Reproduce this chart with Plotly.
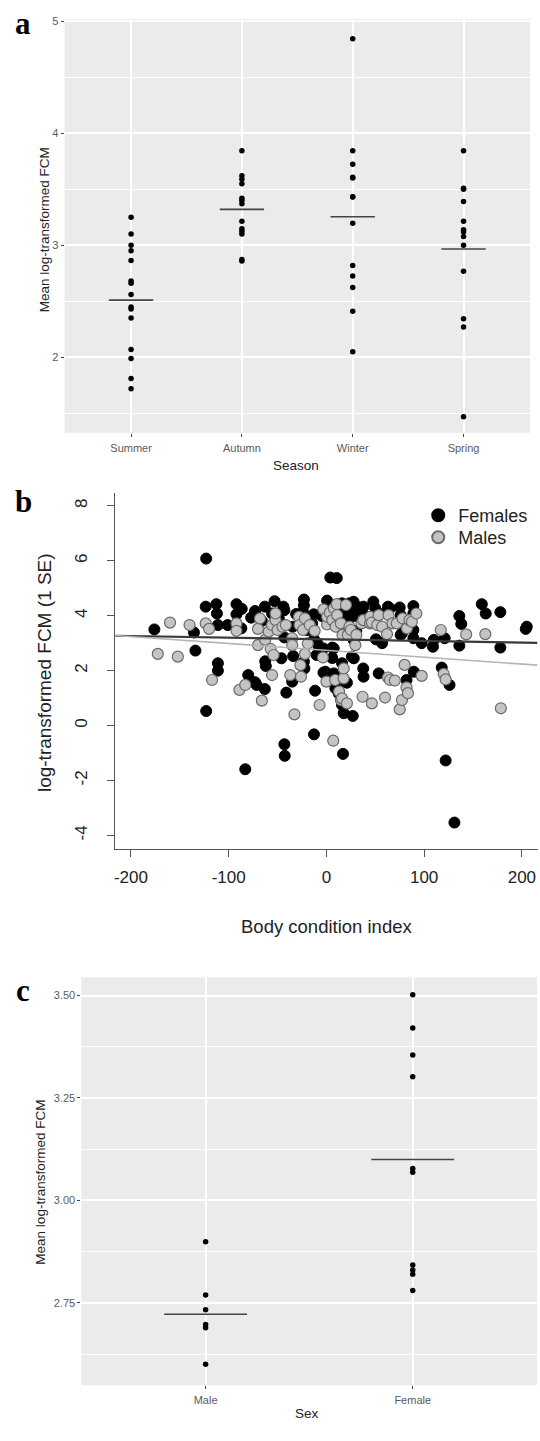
import plotly.graph_objects as go

# ---------------- data ----------------
season_labels = ["Summer", "Autumn", "Winter", "Spring"]
summer_fcm = [3.25, 3.10, 3.00, 2.95, 2.865, 2.68, 2.66, 2.56, 2.45, 2.43, 2.35, 2.07, 1.99, 1.81, 1.72]
autumn_fcm = [3.843, 3.62, 3.59, 3.55, 3.42, 3.40, 3.37, 3.215, 3.147, 3.126, 3.10, 2.874, 2.86]
winter_fcm = [4.844, 3.843, 3.724, 3.606, 3.60, 3.434, 3.43, 3.197, 2.82, 2.726, 2.622, 2.41, 2.05]
spring_fcm = [3.843, 3.51, 3.50, 3.39, 3.215, 3.138, 3.12, 3.078, 3.0, 2.767, 2.344, 2.27, 1.47]
season_means = [2.51, 3.32, 3.255, 2.966]

female_bci = [-176, -135.5, -134, -123, -123.5, -123, -112.6, -112, -111, -111, -111, -101, -92, -92,
              -86.6, -87, -83, -80, -77, -73, -73, -71.5, -66, -63, -63, -62.6, -62, -55.6, -53, -52,
              -48.7, -46, -44, -43, -43, -43, -42.6, -41, -35, -34.5, -34, -31, -24, -23, -23, -22.5,
              -23, -20, -14.6, -13, -13, -12.7, -12.7, -11.6, -10, -9.5, -8, -4.6, -3, -3, -1, 0.7,
              2.5, 4, 6, 6, 4, 10.6, 8.4, 7.5, 7.5, 9.2, 12.6, 13, 16, 16, 16, 17.7, 17.7, 17, 18.3,
              18.3, 19.4, 19.4, 21, 21, 22, 23.6, 26, 26, 27, 27.8, 27, 28, 28, 29, 30.6, 34, 37.7,
              38, 38, 38, 40, 48, 50, 50.7, 53.5, 57, 60.5, 63, 65, 75, 76, 76, 77.3, 82, 82, 89, 89,
              89, 89, 89.4, 97.5, 109, 110, 118, 121, 122, 126, 131, 136, 138, 136, 159, 163, 178,
              178, 204, 205]
female_fcm = [3.50, 3.39, 2.73, 6.08, 4.33, 0.53, 4.42, 4.08, 3.66, 2.27, 2.0, 3.66, 4.42, 4.05,
              4.25, 3.54, -1.59, 1.84, 3.93, 4.17, 1.58, 1.48, 3.81, 4.33, 1.33, 2.34, 2.17, 4.08, 4.53, 4.08,
              3.9, 2.45, 4.33, 4.2, 3.21, -0.68, -1.10, 1.2, 1.6, 3.6, 2.53, 4.06, 4.15, 4.59, 4.38, 2.08,
              2.33, 3.48, 3.72, 4.05, 3.42, 3.14, -0.32, 1.27, 2.57, 3.0, 2.9, 3.99, 1.93, 2.81, 1.96, 4.55,
              4.39, 4.21, 2.84, 2.46, 5.39, 5.37, 1.54, 1.9, 2.81, 1.36, 1.17, 3.9, 4.45, 2.27, 0.75, 4.02, 0.45, -1.03, 4.17,
              0.81, 3.6, 1.6, 3.84, 1.56, 3.72, 4.45, 4.33, 2.51, 0.35, 4.51, 3.18, 3.11, 2.45, 3.99, 3.44, 4.30, 2.08,
              1.78, 4.33, 4.02, 3.84, 4.51, 4.27, 3.14, 1.90, 3.0, 4.12, 4.33, 4.27, 4.30, 3.30, 4.02, 3.36, 3.72, 1.66, 4.35, 4.08,
              3.48, 3.18, 1.96, 3.0, 2.87, 3.12, 2.11, 3.18, -1.27, 1.48, -3.53, 3.99, 3.70, 2.91, 4.42, 4.08, 4.13,
              2.84, 3.52, 3.60]

male_bci = [-172.5, -160, -152, -140, -123.5, -120, -117, -92, -92, -89, -83, -70, -70, -68, -66, -62.6,
            -59, -57, -55.6, -54, -55.6, -52, -52, -50, -45, -41.5, -37, -35, -35, -32.7, -28, -27.5,
            -26.6, -26, -24, -22, -22, -19, -17, -12, -7, -3, -3.5, 0, 0.7, 0.7, 3.5, 6, 7, 7.7, 9,
            9.5, 10.6, 11, 13, 14.8, 14.8, 16, 16.5, 17.6, 17.7, 20, 21, 22, 23.6, 25, 29.6, 30.6, 36,
            37, 37.7, 44.7, 45, 46.5, 46.5, 52, 53.5, 57, 60, 62, 63, 63.6, 65, 67.6, 70, 72, 75, 77.3,
            78, 80, 82, 82.4, 83.4, 85, 87.5, 92, 97.5, 117, 120, 122, 143, 162.6, 178.5]
male_fcm = [2.61, 3.75, 2.51, 3.66, 3.72, 3.52, 1.66, 3.72, 3.45, 1.30, 1.48, 3.52, 2.93, 3.90, 0.91, 3.12,
            3.42, 2.79, 3.66, 2.57, 1.84, 3.84, 4.08, 3.48, 3.6, 3.66, 1.84, 3.18, 2.93, 0.41, 3.96, 3.66,
            2.2, 1.78, 3.48, 3.90, 2.61, 2.99, 3.66, 3.45, 0.75, 4.23, 2.48, 1.6, 3.68, 3.96, 4.11, 3.84, -0.55, 4.27, 1.66,
            3.6, 4.42, 4.02, 1.24, 0.93, 3.72, 0.99, 3.30, 1.72, 2.08, 4.39, 0.81, 3.30, 3.6, 3.48, 2.93, 3.3, 3.72,
            1.05, 3.84, 3.72, 3.96, 3.75, 0.81, 3.66, 4.02, 3.6, 1.02, 3.33, 1.75, 4.02, 1.66, 3.72, 1.64, 3.72, 0.59, 0.93,
            3.90, 2.21, 1.39, 3.54, 1.18, 3.84, 3.78, 4.08, 1.81, 3.48, 1.88, 1.68, 3.32, 3.33, 0.63]

fit_labels = ["Females", "Males"]
fit_intercepts = [3.14, 2.74]
fit_slopes = [-0.0006, -0.0025]

bci_ticks = [-200, -100, 0, 100, 200]
fcm_ticks = [-4, -2, 0, 2, 4, 6, 8]

sex_labels = ["Male", "Female"]
male_mean_fcm = [2.899, 2.769, 2.733, 2.697, 2.689, 2.60]
female_mean_fcm = [3.502, 3.421, 3.355, 3.302, 3.078, 3.069, 2.842, 2.830, 2.82, 2.78]
sex_means = [2.722, 3.10]

# ---------------- layout helpers ----------------
W, H = 540, 1441


def fx(p):
    return p / W


def fy(p):
    return 1 - p / H


GG_BG = "#EBEBEB"
TICK_GREY = "#5a5a5a"
TITLE_COL = "#222222"

fig = go.Figure()

# ---------- panel a ----------
season_data = [summer_fcm, autumn_fcm, winter_fcm, spring_fcm]
for i, vals in enumerate(season_data):
    fig.add_trace(go.Scatter(x=[i] * len(vals), y=vals, mode="markers",
                             marker=dict(color="black", size=5.5), showlegend=False,
                             xaxis="x", yaxis="y", hoverinfo="skip"))
mx, my = [], []
for i, m in enumerate(season_means):
    mx += [i - 0.2, i + 0.2, None]
    my += [m, m, None]
fig.add_trace(go.Scatter(x=mx, y=my, mode="lines", line=dict(color="#444444", width=1.6),
                         showlegend=False, xaxis="x", yaxis="y", hoverinfo="skip"))

# ---------- panel b ----------
fig.add_trace(go.Scatter(x=female_bci, y=female_fcm, mode="markers", name="Females", legend="legend",
                         marker=dict(color="black", size=11, line=dict(color="black", width=1)),
                         xaxis="x2", yaxis="y2"))
fig.add_trace(go.Scatter(x=male_bci, y=male_fcm, mode="markers", name="Males", legend="legend2",
                         marker=dict(color="#c4c4c4", size=11, line=dict(color="#6a6a6a", width=1.2)),
                         xaxis="x2", yaxis="y2"))
xr_b = [-216, 216]
line_styles = [dict(color="#3a3a3a", width=2.2), dict(color="#b5b5b5", width=1.6)]
for lab, a, b, st in zip(fit_labels, fit_intercepts, fit_slopes, line_styles):
    fig.add_trace(go.Scatter(x=xr_b, y=[a + b * xr_b[0], a + b * xr_b[1]], mode="lines",
                             line=st, showlegend=False, xaxis="x2", yaxis="y2", hoverinfo="skip"))

# ---------- panel c ----------
for i, vals in enumerate([male_mean_fcm, female_mean_fcm]):
    fig.add_trace(go.Scatter(x=[i] * len(vals), y=vals, mode="markers",
                             marker=dict(color="black", size=5.5), showlegend=False,
                             xaxis="x3", yaxis="y3", hoverinfo="skip"))
cx, cy = [], []
for i, m in enumerate(sex_means):
    cx += [i - 0.2, i + 0.2, None]
    cy += [m, m, None]
fig.add_trace(go.Scatter(x=cx, y=cy, mode="lines", line=dict(color="#444444", width=1.6),
                         showlegend=False, xaxis="x3", yaxis="y3", hoverinfo="skip"))

gg_axis = dict(showgrid=True, gridcolor="white", gridwidth=1.6, zeroline=False, showline=False,
               ticks="outside", ticklen=3, tickcolor="#444444", tickwidth=1,
               tickfont=dict(family="Liberation Sans, Arial", size=11, color=TICK_GREY))

leg_common = dict(xanchor="left", yanchor="middle", bgcolor="rgba(0,0,0,0)",
                  font=dict(size=18, color="#222222"), itemsizing="constant")

fig.update_layout(
    width=W, height=H, margin=dict(l=0, r=0, t=0, b=0),
    paper_bgcolor="white", plot_bgcolor="rgba(0,0,0,0)",
    font=dict(family="Liberation Sans, Arial"),
    # panel a
    xaxis=dict(gg_axis, domain=[fx(63.7), fx(530)], range=[-0.6, 3.6], tickvals=[0, 1, 2, 3],
               ticktext=season_labels, anchor="y", ticklabelstandoff=2),
    yaxis=dict(gg_axis, domain=[fy(430), fy(15)], range=[1.326, 5.02], tickmode="linear", tick0=0, dtick=1,
               minor=dict(dtick=0.5, showgrid=True, gridcolor="white", gridwidth=0.8),
               anchor="x"),
    # panel b
    xaxis2=dict(domain=[fx(114.5), fx(537.5)], range=xr_b, anchor="y2", showgrid=False, zeroline=False,
                showline=True, linecolor="#555555", linewidth=1, ticks="outside", ticklen=7,
                tickcolor="#555555", tickvals=bci_ticks, ticktext=[str(v) for v in bci_ticks],
                ticklabelstandoff=6, tickfont=dict(size=17, color="#222222")),
    yaxis2=dict(domain=[fy(847), fy(490)], range=[-4.48, 8.48], anchor="x2", showgrid=False, zeroline=False,
                showline=True, linecolor="#555555", linewidth=1, ticks="outside", ticklen=7,
                tickcolor="#555555", tickvals=fcm_ticks, ticktext=[str(v) for v in fcm_ticks],
                tickangle=-90, ticklabelstandoff=13, tickfont=dict(size=17, color="#222222")),
    # panel c
    xaxis3=dict(gg_axis, domain=[fx(80.5), fx(537)], range=[-0.6, 1.6], tickvals=[0, 1],
                ticktext=sex_labels, anchor="y3", ticklabelstandoff=2),
    yaxis3=dict(gg_axis, domain=[fy(1385), fy(976)], range=[2.549, 3.5446],
                tickmode="linear", tick0=2.75, dtick=0.25, tickformat=".2f",
                minor=dict(dtick=0.125, showgrid=True, gridcolor="white", gridwidth=0.8),
                anchor="x3"),
    legend=dict(leg_common, x=fx(418), y=fy(513)),
    legend2=dict(leg_common, x=fx(418), y=fy(535)),
    showlegend=True,
)

# grey ggplot panels
for xr, yr in [("x", "y"), ("x3", "y3")]:
    fig.add_shape(type="rect", xref=f"{xr} domain", yref=f"{yr} domain", x0=0, x1=1, y0=0, y1=1,
                  fillcolor=GG_BG, line=dict(width=0), layer="below")

ann = []
serif = "Liberation Serif, Times New Roman"
ann.append(dict(text="<b>a</b>", x=fx(22), y=fy(20), font=dict(family=serif, size=31, color="black")))
ann.append(dict(text="<b>b</b>", x=fx(23), y=fy(499), font=dict(family=serif, size=31, color="black")))
ann.append(dict(text="<b>c</b>", x=fx(22), y=fy(989), font=dict(family=serif, size=31, color="black")))
ann.append(dict(text="Mean log-transformed FCM", x=fx(43), y=fy(226), textangle=-90,
                font=dict(size=13.5, color=TITLE_COL)))
ann.append(dict(text="Season", x=fx(296), y=fy(463), font=dict(size=13.5, color=TITLE_COL)))
ann.append(dict(text="log-transformed FCM (1 SE)", x=fx(43), y=fy(670), textangle=-90,
                font=dict(size=19, color=TITLE_COL)))
ann.append(dict(text="Body condition index", x=fx(326), y=fy(925), font=dict(size=18.5, color=TITLE_COL)))
ann.append(dict(text="Mean log-transformed FCM", x=fx(40), y=fy(1181), textangle=-90,
                font=dict(size=13.5, color=TITLE_COL)))
ann.append(dict(text="Sex", x=fx(307), y=fy(1413), font=dict(size=13.5, color=TITLE_COL)))
for a_ in ann:
    a_.update(xref="paper", yref="paper", showarrow=False, xanchor="center", yanchor="middle")
    fig.add_annotation(**a_)

fig.write_html("out.html")
